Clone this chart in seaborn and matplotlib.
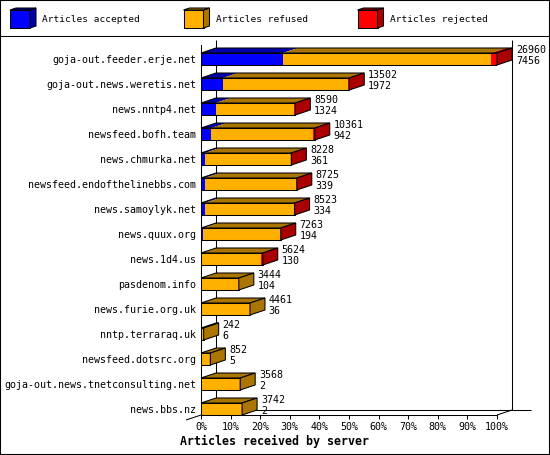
import matplotlib
matplotlib.use("Agg")
import matplotlib.pyplot as plt
from matplotlib.patches import Polygon, Rectangle
from matplotlib.lines import Line2D
import pandas as pd
import seaborn as sns

# 서버별 기사 수 (그림에서 읽은 값, rejected 는 막대 길이로 추정)
servers = [
    "goja-out.feeder.erje.net",
    "goja-out.news.weretis.net",
    "news.nntp4.net",
    "newsfeed.bofh.team",
    "news.chmurka.net",
    "newsfeed.endofthelinebbs.com",
    "news.samoylyk.net",
    "news.quux.org",
    "news.1d4.us",
    "pasdenom.info",
    "news.furie.org.uk",
    "nntp.terraraq.uk",
    "newsfeed.dotsrc.org",
    "goja-out.news.tnetconsulting.net",
    "news.bbs.nz",
]
total = [26960, 13502, 8590, 10361, 8228, 8725, 8523, 7263, 5624, 3444, 4461, 242, 852, 3568, 3742]
accepted = [7456, 1972, 1324, 942, 361, 339, 334, 194, 130, 104, 36, 6, 5, 2, 2]
rejected = [550, 120, 90, 120, 20, 20, 60, 15, 150, 0, 0, 0, 0, 0, 0]

series_names = ["Articles accepted", "Articles refused", "Articles rejected"]
front_colors = ["#0000ff", "#ffb000", "#ff0000"]
shade_colors = ["#0000aa", "#aa7500", "#aa0000"]
pct_ticks = list(range(0, 101, 10))

# 레이아웃 (픽셀)
W, H = 550, 455
AX_LEFT, AX_RIGHT, AX_TOP, AX_BOTTOM = 201, 497, 45, 415
FIRST_Y, ROW_STEP = 59, 25
DEPTH_X, DEPTH_Y = 15, 5
FLOOR_EXT = 19
BAR_H = 0.48
LW = 0.75
FS = 7.2

sns.set_theme(style="ticks", rc={
    "axes.edgecolor": "black", "axes.linewidth": LW,
    "xtick.color": "black", "ytick.color": "black",
    "text.color": "black", "axes.labelcolor": "black",
    "xtick.major.width": LW,
})
plt.rcParams["font.family"] = ["DejaVu Sans Mono"]

df = pd.DataFrame({"server": servers, "total": total,
                   "accepted": accepted, "rejected": rejected})
df["refused"] = df["total"] - df["accepted"] - df["rejected"]
peak = df["total"].max()
df["acc_pct"] = df["accepted"] / peak * 100
df["accref_pct"] = (df["accepted"] + df["refused"]) / peak * 100
df["tot_pct"] = df["total"] / peak * 100

fig = plt.figure(figsize=(W / 100, H / 100), dpi=100)
ax = fig.add_axes([AX_LEFT / W, 1 - AX_BOTTOM / H,
                   (AX_RIGHT - AX_LEFT) / W, (AX_BOTTOM - AX_TOP) / H])

# 앞면: 누적값을 겹쳐 그림
common = dict(data=df, y="server", orient="h", width=BAR_H, saturation=1,
              errorbar=None, ax=ax, zorder=3)
sns.barplot(x="tot_pct", color=front_colors[2], linewidth=0, **common)
sns.barplot(x="accref_pct", color=front_colors[1], linewidth=0, **common)
sns.barplot(x="acc_pct", color=front_colors[0], linewidth=0, **common)
sns.barplot(x="tot_pct", color="black", fill=False, linewidth=LW, **common)

px_x = (AX_RIGHT - AX_LEFT) / 100.0
ddx = DEPTH_X / px_x
ddy = DEPTH_Y / ROW_STEP
y_lo = (AX_BOTTOM - FIRST_Y) / ROW_STEP
y_hi = (AX_TOP - FIRST_Y) / ROW_STEP
ax.set_xlim(0, 100)
ax.set_ylim(y_lo, y_hi)

# 윗면/옆면 (3D 효과)
for i, row in df.iterrows():
    yt = i - BAR_H / 2
    yb = i + BAR_H / 2
    edges = [0, row["acc_pct"], row["accref_pct"], row["tot_pct"]]
    counts = [row["accepted"], row["refused"], row["rejected"]]
    last = max(k for k in range(3) if counts[k] > 0)
    for k in range(3):
        a, b = edges[k], edges[k + 1]
        if b - a <= 0:
            continue
        ax.add_patch(Polygon([(a, yt), (b, yt), (b + ddx, yt - ddy), (a + ddx, yt - ddy)],
                             closed=True, fc=shade_colors[k], ec="none", lw=0,
                             zorder=3, clip_on=False))
    t = row["tot_pct"]
    ax.add_patch(Polygon([(0, yt), (t, yt), (t + ddx, yt - ddy), (ddx, yt - ddy)],
                         closed=True, fill=False, ec="black", lw=LW, zorder=4, clip_on=False))
    ax.add_patch(Polygon([(t, yt), (t, yb), (t + ddx, yb - ddy), (t + ddx, yt - ddy)],
                         closed=True, fc=shade_colors[last], ec="black", lw=LW,
                         zorder=4, clip_on=False))
    tx = t + ddx + 1.3
    ax.text(tx, i - 0.36, f"{row['total']}", ha="left", va="center", fontsize=FS, zorder=5)
    ax.text(tx, i + 0.08, f"{row['accepted']}", ha="left", va="center", fontsize=FS, zorder=5)

# 뒷벽과 바닥
wall = dict(color="black", lw=LW, zorder=1, clip_on=False, solid_capstyle="butt")
ax.plot([ddx, ddx], [y_lo - ddy, y_hi - ddy], **wall)
ax.plot([100 + ddx, 100 + ddx], [y_lo - ddy, y_hi - ddy], **wall)
ax.plot([ddx, 100 + ddx + FLOOR_EXT / px_x], [y_lo - ddy, y_lo - ddy], **wall)
ax.plot([100, 100 + ddx], [y_lo, y_lo - ddy], **wall)
ax.plot([0, -ddx], [y_lo, y_lo + ddy], **wall)

sns.despine(ax=ax, top=True, right=True)
ax.set_ylabel("")
ax.set_xticks(pct_ticks)
ax.set_xticklabels([f"{v}%" for v in pct_ticks])
ax.tick_params(axis="x", length=2.9, width=LW, pad=2.5, labelsize=FS, direction="out")
ax.tick_params(axis="y", length=0, pad=3.6, labelsize=FS)
ax.set_xlabel("Articles received by server", fontsize=8.4, fontweight="bold")
ax.xaxis.set_label_coords((274 - AX_LEFT) / (AX_RIGHT - AX_LEFT),
                          (AX_BOTTOM - 441) / (AX_BOTTOM - AX_TOP))
ax.xaxis.label.set_va("center")

# 범례
leg = fig.add_axes([0, 1 - 35 / H, 1, 35 / H])
leg.set_xlim(0, W)
leg.set_ylim(35, 0)
leg.axis("off")
for k, x0 in enumerate([10, 183.5, 357.5]):
    leg.add_patch(Rectangle((x0, 10), 20, 18, fc=front_colors[k], ec="black", lw=LW))
    leg.add_patch(Polygon([(x0 + 20, 10), (x0 + 20, 28), (x0 + 26, 26), (x0 + 26, 8)],
                          fc=shade_colors[k], ec="black", lw=LW))
    leg.add_patch(Polygon([(x0, 10), (x0 + 20, 10), (x0 + 26, 8), (x0 + 6, 8)],
                          fc=shade_colors[k], ec="black", lw=LW))
    leg.text(x0 + 32, 19.5, series_names[k], ha="left", va="center", fontsize=6.8)

fig.add_artist(Line2D([0, 1], [1 - 35.5 / H] * 2, color="black", lw=LW))
fig.add_artist(Rectangle((0, 0), 1, 1, transform=fig.transFigure, fill=False,
                         ec="black", lw=1.5))

fig.savefig("out.png", dpi=100)
